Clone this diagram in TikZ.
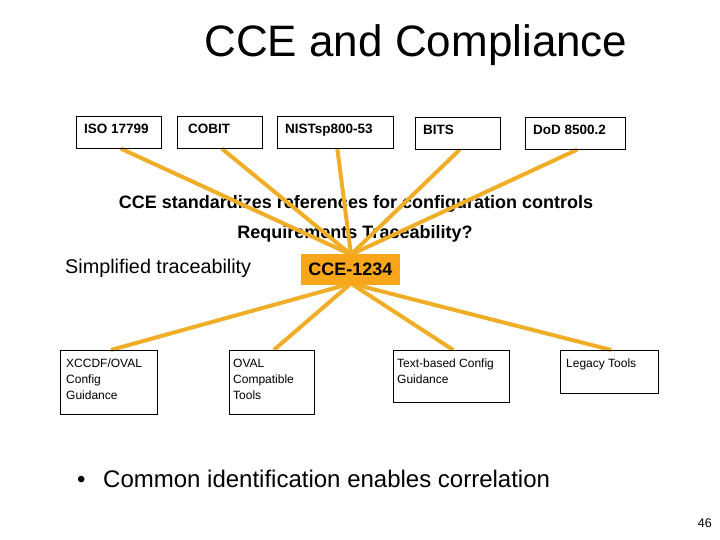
\documentclass[tikz,border=0pt]{standalone}
\usepackage{fontspec}
\setmainfont{Liberation Sans}
\usetikzlibrary{calc}
\definecolor{linecol}{RGB}{240,174,40}
\definecolor{hubcol}{RGB}{249,166,26}
\tikzset{
  x=1pt, y=-1pt,
  box/.style={draw=black, line width=0.6pt, fill=white, anchor=north west, inner sep=0pt},
  toptxt/.style={anchor=base west, inner sep=0pt, font=\fontsize{13.5}{16}\selectfont\bfseries},
  bottxt/.style={anchor=north west, inner sep=0pt, align=left, font=\fontsize{12}{16}\selectfont},
  conn/.style={draw=linecol, line width=4pt},
}
\begin{document}
\begin{tikzpicture}
\useasboundingbox (0,0) rectangle (720,540);
% title
\node[anchor=base, inner sep=0pt, font=\fontsize{44}{50}\selectfont] (title) at (416,57) {CCE and Compliance};
% middle texts (under the connectors)
\node[anchor=base, inner sep=0pt, font=\fontsize{18}{20}\selectfont\bfseries] (std) at (356,209) {CCE standardizes references for configuration controls};
\node[anchor=base, inner sep=0pt, font=\fontsize{18}{20}\selectfont\bfseries] (req) at (355,238) {Requirements Traceability?};
\node[anchor=base west, inner sep=0pt, font=\fontsize{19.8}{22}\selectfont] (simp) at (65,273) {Simplified traceability};
% top boxes
\node[box, minimum width=85, minimum height=32] (iso) at (76,116) {};
\node[box, minimum width=85, minimum height=32] (cobit) at (177,116) {};
\node[box, minimum width=116, minimum height=32] (nist) at (277,116) {};
\node[box, minimum width=85, minimum height=32] (bits) at (415,117) {};
\node[box, minimum width=100, minimum height=32] (dod) at (525,117) {};
% bottom boxes
\node[box, minimum width=97, minimum height=64] (xccdf) at (60,350) {};
\node[box, minimum width=85, minimum height=64] (oval) at (229,350) {};
\node[box, minimum width=116, minimum height=52] (textb) at (393,350) {};
\node[box, minimum width=98, minimum height=43] (legacy) at (560,350) {};
% hub convergence points (top and bottom edge of the CCE box)
\coordinate (hubtop) at (351,254.5);
\coordinate (hubbot) at (351,283.5);
% connectors
\foreach \n in {iso,cobit,nist,bits,dod} {\draw[conn] ($(\n.south)+(2,0)$) -- (hubtop);}
\foreach \n in {xccdf,oval,textb,legacy} {\draw[conn] ($(\n.north)+(2,0)$) -- (hubbot);}
% redraw box outlines over line ends
\foreach \n in {iso,cobit,nist,bits,dod,xccdf,oval,textb,legacy} {\draw[line width=0.6pt] (\n.north west) rectangle (\n.south east);}
% hub box on top
\node[fill=hubcol, minimum width=99, minimum height=31, inner sep=0pt, font=\fontsize{18}{20}\selectfont\bfseries] (cce) at (350.5,269) {CCE-1234};
% top box texts
\node[toptxt] (isoT) at (84,134) {ISO 17799};
\node[toptxt] (cobitT) at (188,134) {COBIT};
\node[toptxt] (nistT) at (285,134) {NISTsp800-53};
\node[toptxt] (bitsT) at (423,135) {BITS};
\node[toptxt] (dodT) at (533,135) {DoD 8500.2};
% bottom box texts
\node[bottxt] (xccdfT) at (66,359) {XCCDF/OVAL\\Config\\Guidance};
\node[bottxt] (ovalT) at (233,359) {OVAL\\Compatible\\Tools};
\node[bottxt] (textbT) at (397,359) {Text-based Config\\Guidance};
\node[bottxt] (legacyT) at (566,359) {Legacy Tools};
% bullet
\node[anchor=base west, inner sep=0pt, font=\fontsize{24}{28}\selectfont] (bul) at (77,487) {\textbullet};
\node[anchor=base west, inner sep=0pt, font=\fontsize{24}{28}\selectfont] (corr) at (103,487) {Common identification enables correlation};
% page number
\node[anchor=base east, inner sep=0pt, font=\fontsize{12.5}{14}\selectfont] (pg) at (712,527) {46};
\end{tikzpicture}
\end{document}
